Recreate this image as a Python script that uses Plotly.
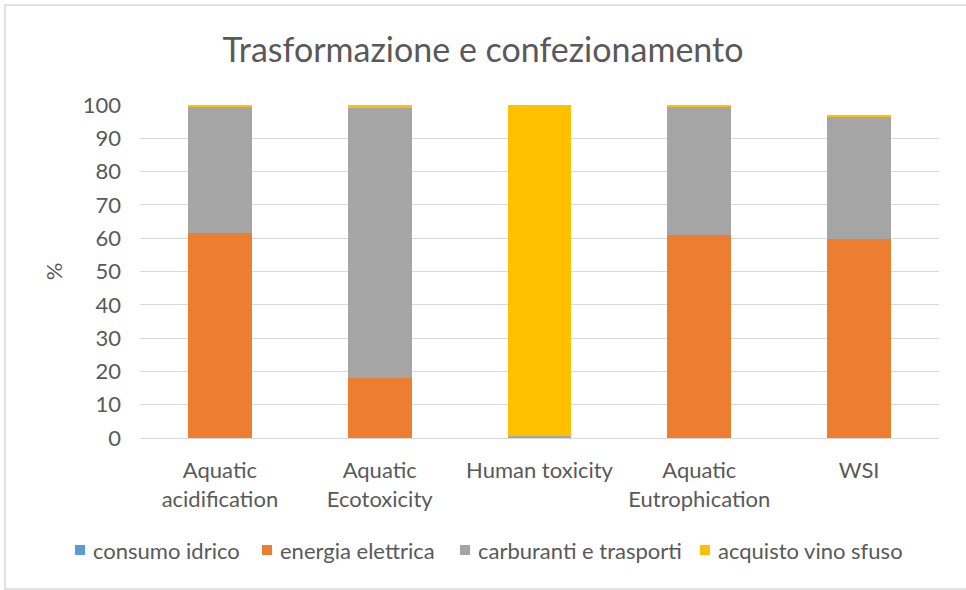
import plotly.graph_objects as go

categories = ["Aquatic<br>acidification", "Aquatic<br>Ecotoxicity", "Human toxicity",
              "Aquatic<br>Eutrophication", "WSI"]
consumo_idrico = [0.05, 0.05, 0.0, 0.05, 0.05]
energia_elettrica = [61.6, 18.0, 0.0, 60.8, 59.8]
carburanti_trasporti = [37.9, 81.3, 0.5, 38.7, 36.6]
acquisto_vino_sfuso = [0.5, 0.6, 99.5, 0.5, 0.4]

series = [
    ("consumo idrico", consumo_idrico, "#5B9BD5"),
    ("energia elettrica", energia_elettrica, "#ED7D31"),
    ("carburanti e trasporti", carburanti_trasporti, "#A5A5A5"),
    ("acquisto vino sfuso", acquisto_vino_sfuso, "#FFC000"),
]

W, H = 966, 590
L, R, T, B = 140, 27, 105, 152
PW, PH = W - L - R, H - T - B


def px_x(px):
    return (px - L) / PW


def px_y(py):
    return (H - B - py) / PH


fig = go.Figure()
for name, vals, col in series:
    fig.add_trace(go.Bar(x=categories, y=vals, name=name, marker_color=col,
                         marker_line_width=0, width=0.4, showlegend=False))

# manual legend (Excel-like compact spacing)
legend_sq_x = [75, 262, 460, 700]
legend_y = 550
shapes = [dict(type="rect", xref="paper", yref="paper", x0=px_x(-5 + 10), x1=px_x(1020),
               y0=px_y(589), y1=px_y(5), line=dict(color="#D9D9D9", width=1.5))]
annotations = []
for (name, _, col), sx in zip(series, legend_sq_x):
    shapes.append(dict(type="rect", xref="paper", yref="paper",
                       x0=px_x(sx), x1=px_x(sx + 10),
                       y0=px_y(legend_y + 5), y1=px_y(legend_y - 5),
                       fillcolor=col, line=dict(width=0)))
    annotations.append(dict(text=name, xref="paper", yref="paper",
                            x=px_x(sx + 16), y=px_y(legend_y), xanchor="left",
                            yanchor="middle", showarrow=False,
                            font=dict(size=22, color="#595959")))

font_fam = "Lato, Open Sans, sans-serif"
fig.update_layout(
    barmode="stack",
    width=W, height=H,
    paper_bgcolor="white", plot_bgcolor="white",
    margin=dict(l=L, r=R, t=T, b=B, autoexpand=False),
    font=dict(family=font_fam, color="#595959", size=22),
    title=dict(text="Trasformazione e confezionamento", x=0.5, xanchor="center",
               y=1 - 50 / H, yanchor="middle", font=dict(size=34, color="#595959")),
    yaxis=dict(range=[0, 100], dtick=10, showgrid=True, gridcolor="#D9D9D9", gridwidth=1,
               zeroline=False, showline=False, ticks="", tickfont=dict(size=22),
               ticklabelstandoff=18, automargin=False,
               title=dict(text="%", font=dict(size=22), standoff=14)),
    xaxis=dict(showline=True, linecolor="#D9D9D9", linewidth=1, ticks="",
               tickfont=dict(size=22), ticklabelstandoff=13, tickangle=0,
               automargin=False),
    showlegend=False,
    shapes=shapes,
    annotations=annotations,
)
fig.write_html("out.html", config={"displayModeBar": False},
               post_script="document.body.style.margin='0';")
